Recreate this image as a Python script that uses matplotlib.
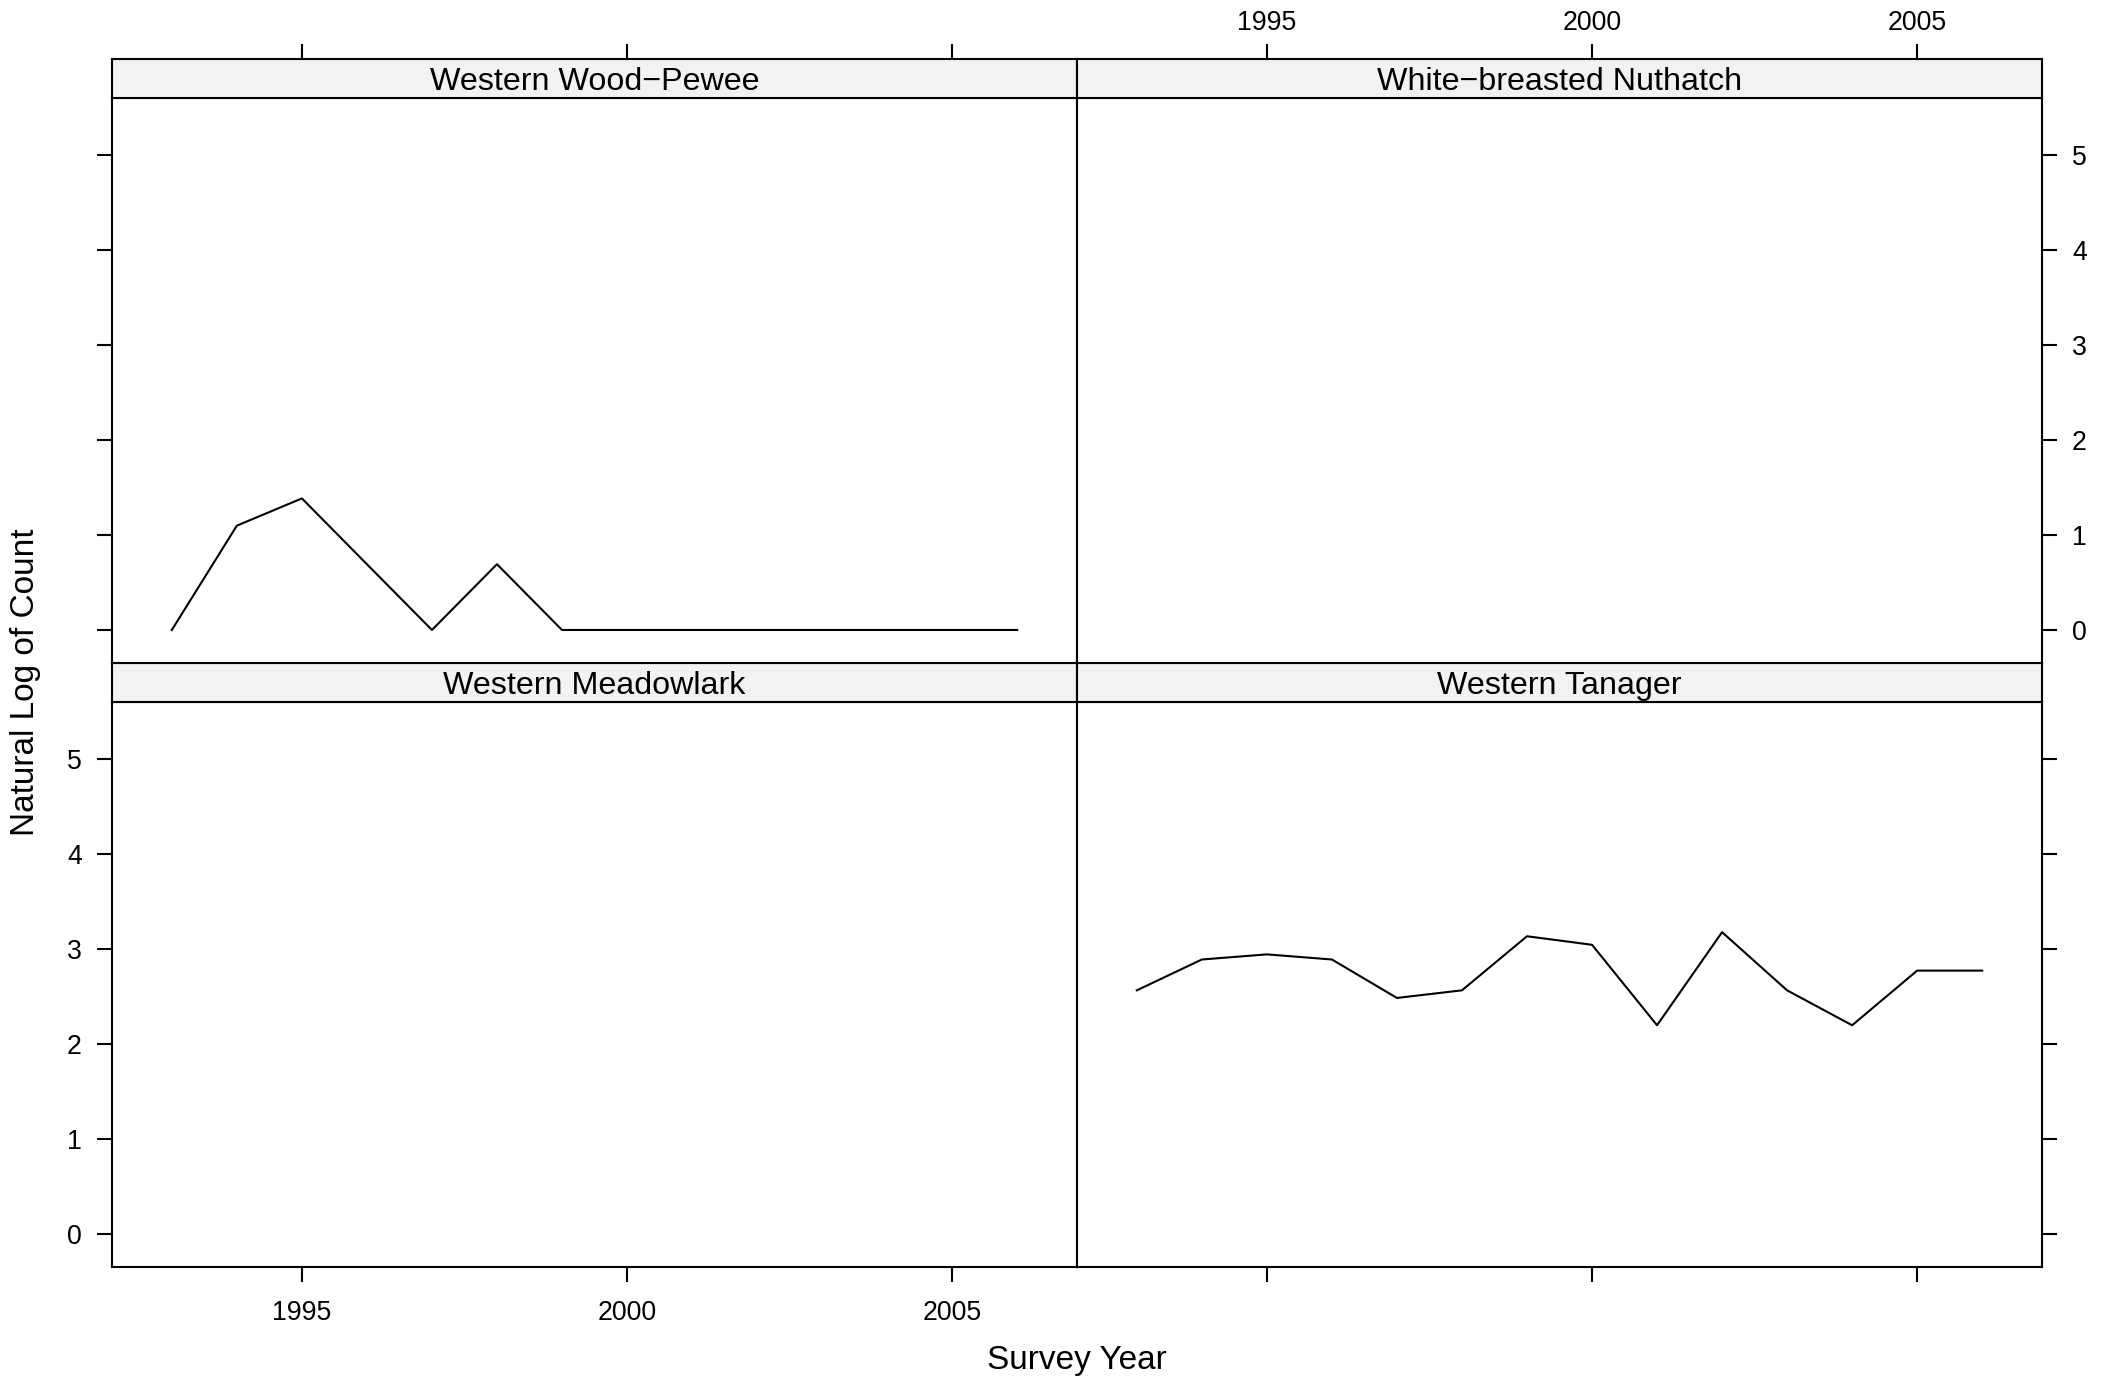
import matplotlib
matplotlib.use("Agg")
import matplotlib.pyplot as plt

plt.rcParams['font.family'] = ['Liberation Sans', 'DejaVu Sans']

# panels in lattice order: bottom-left, bottom-right, top-left, top-right
species = ['Western Meadowlark', 'Western Tanager',
           'Western Wood\u2212Pewee', 'White\u2212breasted Nuthatch']

years = [1993, 1994, 1995, 1996, 1997, 1998, 1999,
         2000, 2001, 2002, 2003, 2004, 2005, 2006]

# natural log of counts
meadowlark = []
tanager = [2.565, 2.890, 2.944, 2.890, 2.485, 2.565, 3.135,
           3.045, 2.197, 3.178, 2.565, 2.197, 2.773, 2.773]
pewee = [0.0, 1.099, 1.386, 0.693, 0.0, 0.693, 0.0,
         0.0, 0.0, 0.0, 0.0, 0.0, 0.0, 0.0]
nuthatch = []

series = [meadowlark, tanager, pewee, nuthatch]

x_ticks = [1995, 2000, 2005]
y_ticks = [0, 1, 2, 3, 4, 5]
xlim = (1992.08, 2006.92)

W, H = 2114, 1380
fig = plt.figure(figsize=(W / 200, H / 200), dpi=200)

left, mid, right = 112 / W, 1077 / W, 2042 / W
pw = mid - left
# panel rows (bottom, top) and strip heights in figure fraction
rows = [(1 - 1267 / H, 1 - 702.3 / H), (1 - 663.2 / H, 1 - 98.4 / H)]
strip_h = 39.1 / H
lw = 0.75
tick_kw = dict(direction='out', length=5.3, width=lw, pad=5.5,
               labelsize=9.6, colors='black')

for i, (name, vals) in enumerate(zip(species, series)):
    col = i % 2
    row = i // 2
    x0 = left if col == 0 else mid
    y0, y1 = rows[row]
    ax = fig.add_axes([x0, y0, pw, y1 - y0])
    st = fig.add_axes([x0, y1, pw, strip_h])

    if len(vals) > 0:
        ax.plot(years[:len(vals)], vals, color='black', lw=lw)
    ax.set_xlim(*xlim)
    ax.set_ylim(-0.35, 5.6)
    for s in ax.spines.values():
        s.set_linewidth(lw)

    ax.set_xticks(x_ticks)
    ax.set_yticks(y_ticks)
    ax.tick_params(**tick_kw)

    # outer edges only, labels alternate like lattice
    ax.tick_params(axis='x', bottom=(row == 0), top=False, pad=6.5,
                   labelbottom=(row == 0 and col == 0), labeltop=False)
    ax.tick_params(axis='y', left=(col == 0), right=(col == 1),
                   labelleft=(col == 0 and row == 0),
                   labelright=(col == 1 and row == 1))

    # top ticks sit above the strip
    st.set_xlim(*xlim)
    st.set_yticks([])
    if row == 1:
        st.set_xticks(x_ticks)
        st.tick_params(**tick_kw)
        st.tick_params(axis='x', bottom=False, labelbottom=False, pad=3,
                       top=True, labeltop=(col == 1))
    else:
        st.set_xticks([])
    st.set_facecolor('#f2f2f2')
    for s in st.spines.values():
        s.set_linewidth(lw)
    st.text(0.5, 0.42, name, ha='center', va='center', fontsize=11.6,
            transform=st.transAxes)

fig.text(26 / W, 1 - 682 / H, 'Natural Log of Count', rotation=90,
         ha='center', va='center', fontsize=12)
fig.text(1077 / W, 1 - 1361 / H, 'Survey Year', ha='center', va='center',
         fontsize=12)

fig.savefig('out.png', dpi=200, facecolor='white')
